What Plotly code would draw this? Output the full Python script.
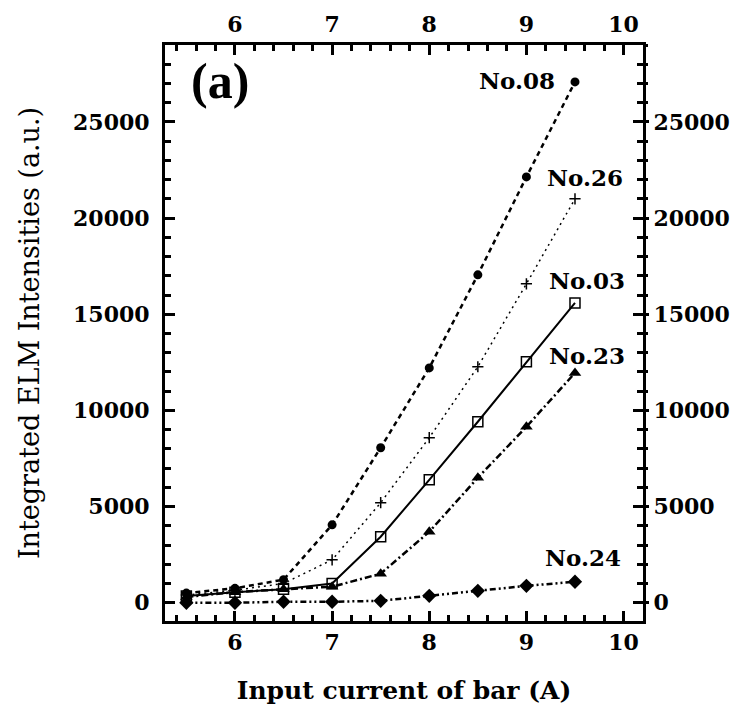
import plotly.graph_objects as go

# Input current of the bar (A)
current = [5.5, 6.0, 6.5, 7.0, 7.5, 8.0, 8.5, 9.0, 9.5]

# Integrated ELM intensities (a.u.) for each sample
no08 = [500, 750, 1200, 4050, 8060, 12210, 17050, 22140, 27080]
no26 = [400, 650, 1000, 2230, 5200, 8580, 12270, 16580, 21000]
no03 = [350, 550, 700, 1000, 3430, 6390, 9410, 12530, 15590]
no23 = [300, 550, 700, 830, 1510, 3690, 6500, 9150, 11950]
no24 = [0, 0, 50, 50, 100, 360, 620, 880, 1090]

series_names = ["No.08", "No.26", "No.03", "No.23", "No.24"]

x_range = [5.28, 10.2]
y_range = [-950, 29000]

serif = "DejaVu Serif"
tick_font = dict(family=serif, size=22, color="black", weight="bold")
tick_col = "black"

fig = go.Figure()

styles = [
    (no08, dict(color="black", width=2.5, dash="5px,4px"),
     dict(symbol="circle", size=9, color="black")),
    (no26, dict(color="black", width=1.5, dash="2px,4px"),
     dict(symbol="cross-thin", size=8, line=dict(color="black", width=1.5))),
    (no03, dict(color="black", width=2, dash="solid"),
     dict(symbol="square-open", size=10, color="black", line=dict(width=1.5))),
    (no23, dict(color="black", width=2.5, dash="7px,3px,2px,3px"),
     dict(symbol="triangle-up", size=11, color="black")),
    (no24, dict(color="black", width=2.5, dash="6px,3px,2px,3px,2px,3px"),
     dict(symbol="diamond", size=11, color="black")),
]

for name, (vals, line, marker) in zip(series_names, styles):
    fig.add_trace(go.Scatter(
        x=current, y=vals, name=name, mode="lines+markers",
        line=line, marker=marker, showlegend=False,
    ))

# empty trace so the top / right axes are drawn
fig.add_trace(go.Scatter(x=[], y=[], xaxis="x2", yaxis="y2", showlegend=False))

# series labels
label_pos = {
    "No.08": (9.315, 27180, "right"),
    "No.26": (9.19, 22090, "left"),
    "No.03": (9.21, 16780, "left"),
    "No.23": (9.21, 12880, "left"),
    "No.24": (9.17, 2330, "left"),
}
for name in series_names:
    lx, ly, anchor = label_pos[name]
    fig.add_annotation(
        x=lx, y=ly, text=name, showarrow=False, xanchor=anchor, yanchor="middle",
        font=dict(family=serif, size=23, color="black", weight="bold"),
    )

fig.add_annotation(
    x=5.525, y=27150, text="(a)", showarrow=False, xanchor="left", yanchor="middle",
    font=dict(family="Liberation Serif", size=50, color="black", weight="bold"),
)

common_x = dict(
    range=x_range, dtick=1, ticks="inside", ticklen=10, tickwidth=2.5,
    tickcolor=tick_col, tickfont=tick_font, showgrid=False, zeroline=False,
    automargin=False,
    minor=dict(dtick=0.2, ticks="inside", ticklen=6, tickwidth=2.5,
               tickcolor=tick_col, showgrid=False),
)
common_y = dict(
    range=y_range, dtick=5000, tickformat="d", tickcolor=tick_col, tickwidth=2.5,
    tickfont=tick_font, showgrid=False, zeroline=False, automargin=False,
)

fig.update_layout(
    width=733, height=711,
    margin=dict(l=165, r=90, t=45, b=90),
    paper_bgcolor="white", plot_bgcolor="white",
    xaxis=dict(
        **common_x, showline=True, linewidth=3, linecolor="black", mirror=True,
        title=dict(text="Input current of bar (A)", standoff=28,
                   font=dict(family=serif, size=25, color="black", weight="bold")),
    ),
    xaxis2=dict(**common_x, overlaying="x", side="top", anchor="y", ticklabelstandoff=8),
    yaxis=dict(
        **common_y, ticks="inside", ticklen=10, mirror="ticks",
        showline=True, linewidth=3, linecolor="black", ticklabelstandoff=8,
        minor=dict(dtick=1000, ticks="inside", ticklen=6, tickwidth=2.5,
                   tickcolor=tick_col, showgrid=False),
        title=dict(text="Integrated ELM Intensities (a.u.)", standoff=26,
                   font=dict(family=serif, size=27, color="black")),
    ),
    yaxis2=dict(
        **common_y, overlaying="y", side="right", anchor="x", ticks="outside", ticklen=5,
        minor=dict(dtick=1000, ticks="outside", ticklen=4, tickwidth=2.5,
                   tickcolor=tick_col, showgrid=False),
    ),
)

fig.write_html("out.html")
